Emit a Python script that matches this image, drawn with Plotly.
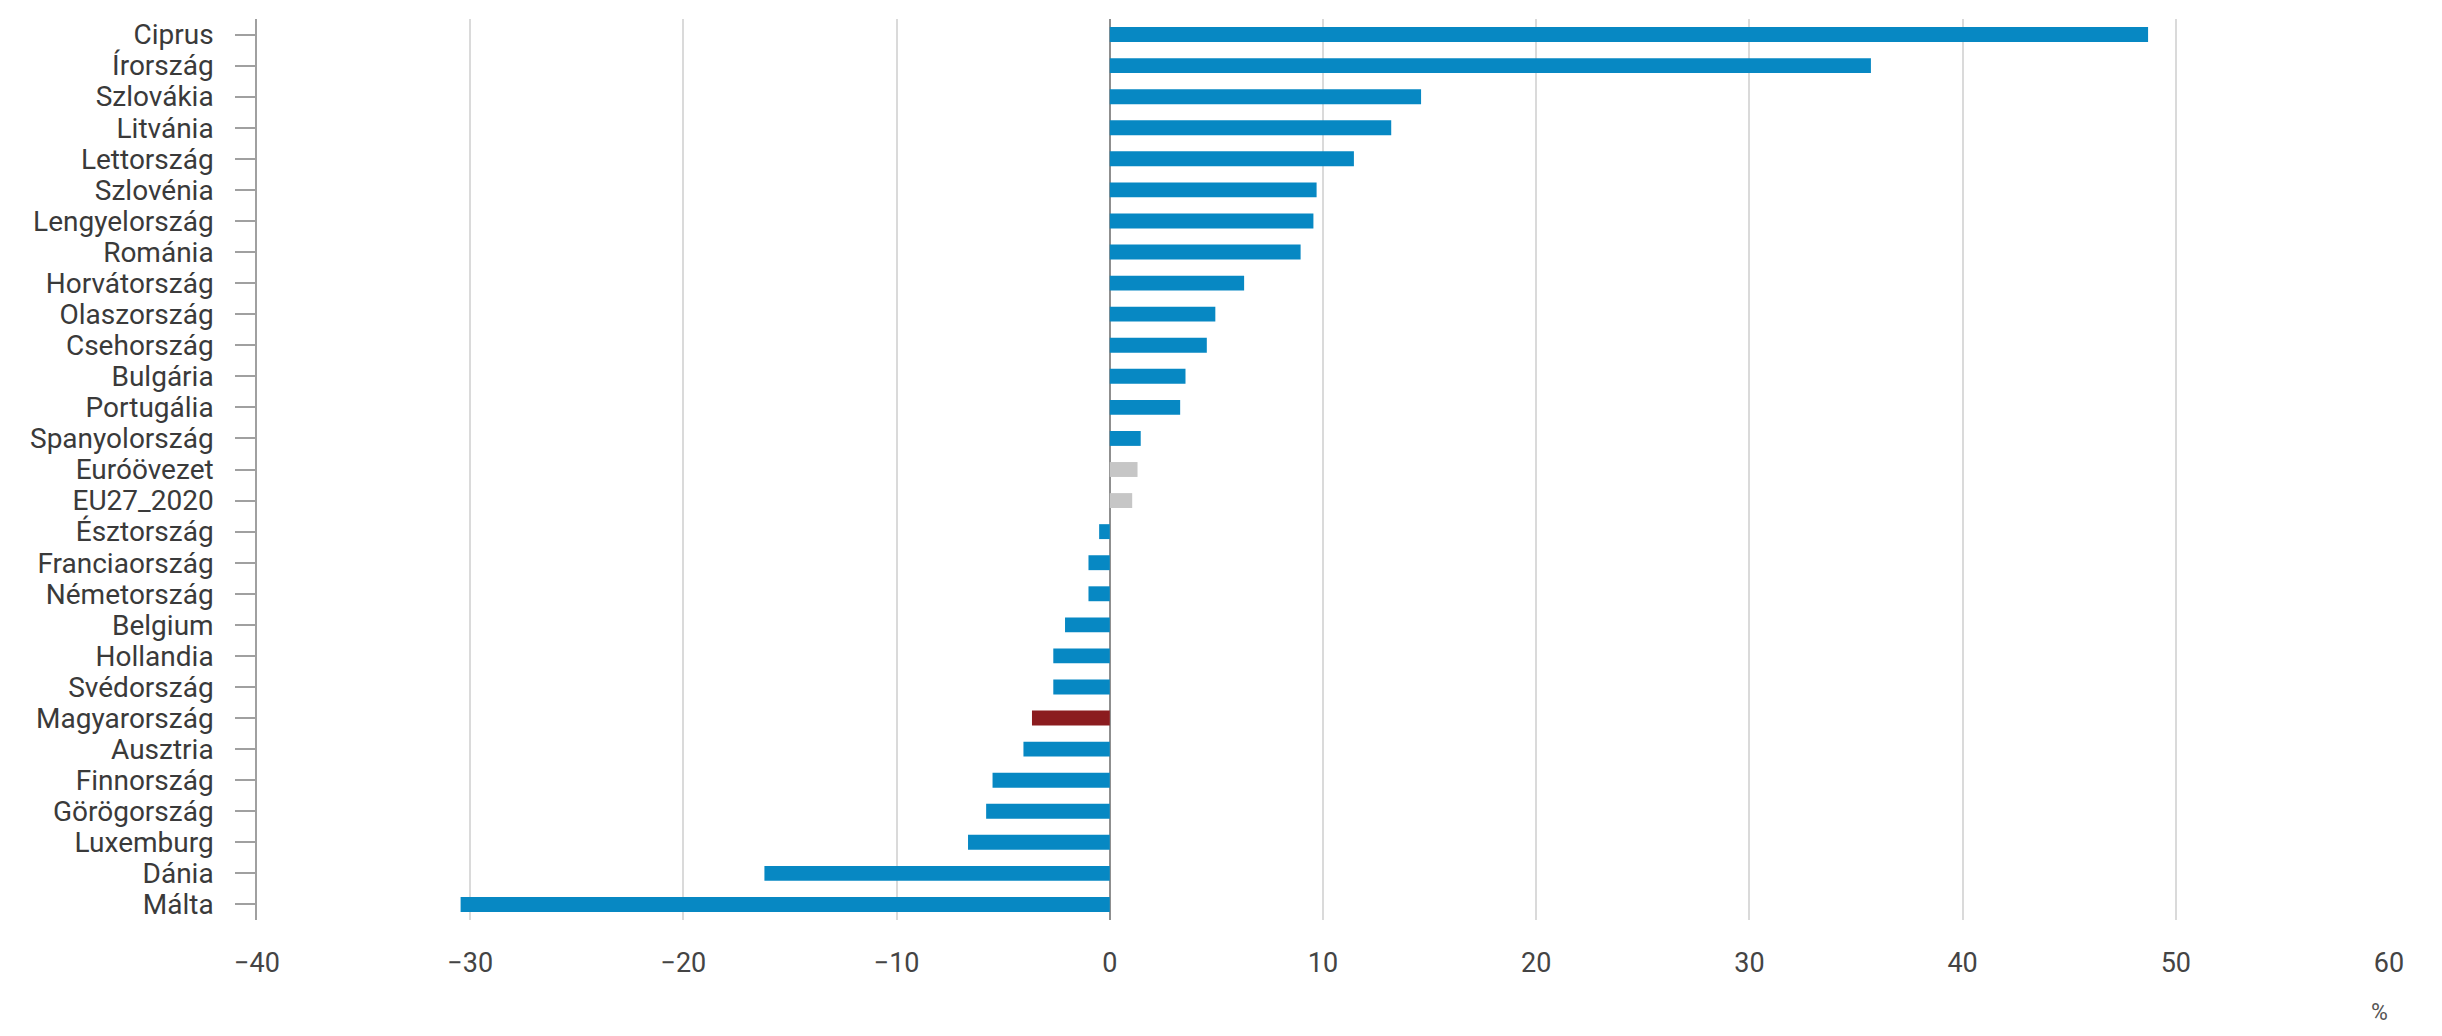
import plotly.graph_objects as go

countries = [
    "Ciprus", "Írország", "Szlovákia", "Litvánia", "Lettország", "Szlovénia",
    "Lengyelország", "Románia", "Horvátország", "Olaszország", "Csehország",
    "Bulgária", "Portugália", "Spanyolország", "Euróövezet", "EU27_2020",
    "Észtország", "Franciaország", "Németország", "Belgium", "Hollandia",
    "Svédország", "Magyarország", "Ausztria", "Finnország", "Görögország",
    "Luxemburg", "Dánia", "Málta",
]
values = [
    48.7, 35.7, 14.6, 13.2, 11.45, 9.7,
    9.55, 8.95, 6.3, 4.95, 4.55,
    3.55, 3.3, 1.45, 1.3, 1.05,
    -0.5, -1.0, -1.0, -2.1, -2.65,
    -2.65, -3.65, -4.05, -5.5, -5.8,
    -6.65, -16.2, -30.45,
]
x_ticks = [-40, -30, -20, -10, 0, 10, 20, 30, 40, 50, 60]
highlight = "Magyarország"
aggregates = ["Euróövezet", "EU27_2020"]

BLUE = "#0788c3"
RED = "#8b1c1f"
GREY = "#c6c6c6"
colors = [RED if c == highlight else (GREY if c in aggregates else BLUE) for c in countries]

# page body has an 8px default margin, so the figure is offset by 8px
W, H = 2434, 1028
ML, MR, MT, MB = 249, 53, 11, 116

fig = go.Figure(go.Bar(
    x=values, y=countries, orientation="h",
    marker=dict(color=colors, line=dict(width=0)),
    hoverinfo="x+y",
))

fig.update_layout(
    width=W, height=H,
    margin=dict(l=ML, r=MR, t=MT, b=MB, pad=0, autoexpand=False),
    paper_bgcolor="white", plot_bgcolor="white",
    font=dict(family="Roboto", size=28, color="#3a3a3a"),
    bargap=0.52,
    showlegend=False,
    xaxis=dict(
        range=[-40, 60], tickmode="array", tickvals=x_ticks, automargin=False,
        showgrid=True, gridcolor="#dadada", gridwidth=1.5,
        zeroline=True, zerolinecolor="#8f8f8f", zerolinewidth=2,
        showline=False, ticks="", ticklabelstandoff=24,
        tickfont=dict(family="Roboto", size=27, color="#444444"),
        fixedrange=True,
    ),
    yaxis=dict(
        autorange="reversed", type="category", automargin=False,
        tickmode="array", tickvals=countries, ticktext=countries,
        showgrid=False, zeroline=False,
        showline=True, linecolor="#a0a0a0", linewidth=1.5,
        ticks="outside", ticklen=20, tickcolor="#a0a0a0", tickwidth=1.5,
        ticklabelstandoff=16,
        tickfont=dict(family="Roboto", size=28, color="#3a3a3a"),
        fixedrange=True,
    ),
    annotations=[dict(
        text="%", xref="paper", yref="paper",
        x=(2371 - ML) / (W - ML - MR), y=-(1004 - (H - MB)) / (H - MT - MB),
        xanchor="center", yanchor="middle", showarrow=False,
        font=dict(family="Roboto", size=23, color="#555555"),
    )],
)

fig.write_html("out.html")
